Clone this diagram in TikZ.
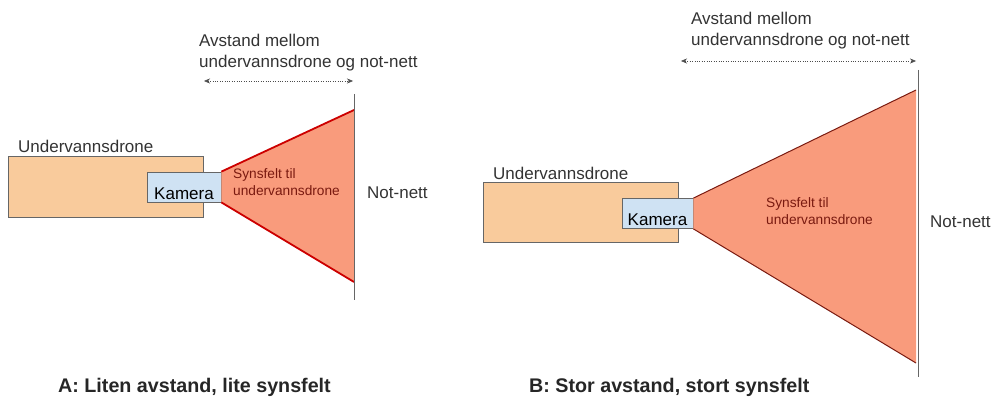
\documentclass[tikz,border=0pt]{standalone}
\usepackage{fontspec}
\setmainfont{Liberation Sans}
\usepackage{tikz}
\usetikzlibrary{arrows,arrows.meta,positioning}
\definecolor{droneorange}{HTML}{F9CB9C}
\definecolor{camerablue}{HTML}{CFE2F3}
\definecolor{viewsalmon}{HTML}{F99B7C}
\definecolor{viewred}{HTML}{CC0000}
\definecolor{viewdark}{HTML}{7A1A10}
\definecolor{edgegray}{HTML}{666666}
\tikzset{drone node/.style={rectangle, draw=edgegray, fill=droneorange, thick,
    minimum width=195pt, minimum height=61pt, inner sep=0pt}}
\tikzset{camera node/.style={rectangle, draw=edgegray, fill=camerablue, thick,
    font=\fontsize{17}{20}\selectfont, text height=24pt, text depth=0pt,
    inner xsep=0pt, inner ysep=3pt}}
\tikzset{plain text/.style={font=\fontsize{17}{20.5}\selectfont, text=black!80, inner sep=0pt}}
\tikzset{small text/.style={font=\fontsize{13.7}{17.5}\selectfont, text=viewdark, align=left, inner sep=0pt}}
\tikzset{title text/.style={font=\bfseries\fontsize{19.7}{22}\selectfont, text=black!85, inner sep=0pt}}
\tikzset{view field/.style={fill=viewsalmon}}
\tikzset{net line/.style={draw=edgegray, thick}}
\tikzset{distance arrow/.style={draw=black!70, dotted, thin,
    {Stealth[length=6pt,width=5pt]}-{Stealth[length=6pt,width=5pt]}}}

\begin{document}
\begin{tikzpicture}
  [x=1pt, y=-1pt]
  \useasboundingbox (0,0) rectangle (995,398);
  \begin{scope}
    \node [drone node]  (drone)  at (105.5,187) {};
    \node [plain text, anchor=base west] (dronetext) at (18,153) {Undervannsdrone};
    \node [camera node, minimum width=74pt, minimum height=30pt] (camera) at (184,187) {Kamera};
    \coordinate (viewtop) at (354,110);
    \coordinate (viewbot) at (354,282);
    \coordinate (nettop)  at (354,94);
    \coordinate (netbot)  at (354,300);
    \coordinate (arrowleft)  at (204,81);
    \coordinate (arrowright) at (353,81);

    \fill [view field] (camera.north east) -- (viewtop) -- (viewbot) -- (camera.south east) -- cycle;
    \draw [viewred, line width=1.8pt] (camera.north east) -- (viewtop);
    \draw [viewred, line width=1.8pt] (camera.south east) -- (viewbot);
    \draw [net line] (nettop) -- (netbot);
    \draw [distance arrow] (arrowleft) -- (arrowright);

    \node [small text, anchor=north west] (viewtext) at (233,168) {Synsfelt til\\undervannsdrone};
    \node [plain text, anchor=west] (nettext) at (367,193) {Not-nett};
    \node [plain text, anchor=north west, align=left] (disttext) at (199,34) {Avstand mellom\\undervannsdrone og not-nett};
    \node [title text, anchor=west] (title) at (58,387) {A: Liten avstand, lite synsfelt};
  \end{scope}

  \begin{scope}[xshift=475pt]
    \node [drone node, minimum height=60pt] (drone') at (105.5,212) {};
    \node [plain text, anchor=base west] (dronetext') at (18,179) {Undervannsdrone};
    \node [camera node, minimum width=71pt, minimum height=29pt] (camera') at (182.5,213.5) {Kamera};
    \coordinate (viewtop')    at (441,90);
    \coordinate (viewbot')    at (441,363);
    \coordinate (nettop')     at (443,70);
    \coordinate (netbot')     at (443,377);
    \coordinate (arrowleft')  at (206,61);
    \coordinate (arrowright') at (441,61);

    \fill [view field] (camera'.north east) -- (viewtop') -- (viewbot') -- (camera'.south east) -- cycle;
    \draw [viewdark, line width=1pt] (camera'.north east) -- (viewtop');
    \draw [viewdark, line width=1pt] (camera'.south east) -- (viewbot');
    \draw [net line] (nettop') -- (netbot');
    \draw [distance arrow] (arrowleft') -- (arrowright');

    \node [small text, anchor=north west] (viewtext') at (291,197) {Synsfelt til\\undervannsdrone};
    \node [plain text, anchor=west] (nettext') at (455,222) {Not-nett};
    \node [plain text, anchor=north west, align=left] (disttext') at (216,12) {Avstand mellom\\undervannsdrone og not-nett};
    \node [title text, anchor=west] (title') at (54,387) {B: Stor avstand, stort synsfelt};
  \end{scope}
\end{tikzpicture}
\end{document}
